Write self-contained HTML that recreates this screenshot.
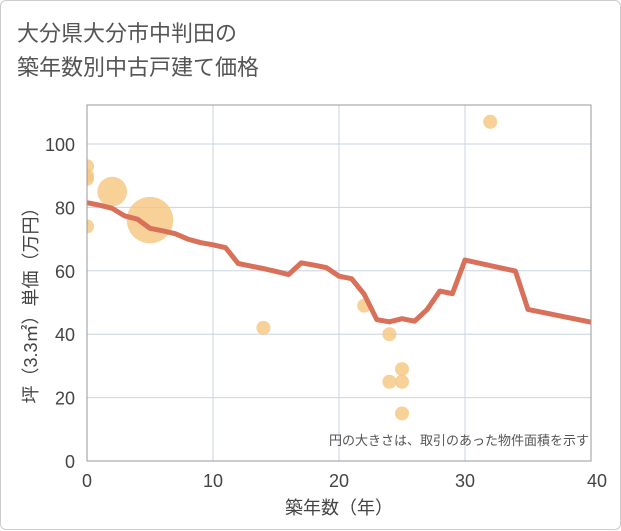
<!DOCTYPE html>
<html><head><meta charset="utf-8"><style>
body{margin:0;background:#fff;}
#wrap{position:relative;width:619px;height:528px;border:1px solid #ccc;border-radius:6px;background:#fff;font-family:"Liberation Sans","Noto Sans CJK JP",sans-serif;}
.title{position:absolute;left:16px;top:16px;font-size:22px;line-height:34px;color:#555;}
</style></head><body>
<div id="wrap">
<div class="title">大分県大分市中判田の<br>築年数別中古戸建て価格</div>
<svg id="chart" width="621" height="530" style="position:absolute;left:0;top:0"></svg>
</div>
<script>
const lineYears=[0,1,2,3,4,5,6,7,8,9,10,11,12,13,14,15,16,17,18,19,20,21,22,23,24,25,26,27,28,29,30,34,35,40];
const linePrices=[81.5,80.7,79.7,77.3,76.3,73.4,72.6,71.7,70,68.9,68.2,67.3,62.3,61.5,60.7,59.8,58.8,62.5,61.8,61,58.3,57.5,52.6,44.6,43.9,44.9,44.1,47.8,53.6,52.8,63.4,59.9,47.8,43.8];
const bubbleYears=[0,0,0,0,2,5,14,22,24,25,24,25,25,32];
const bubblePrices=[93,90,89,74,85,76,42,49,40,29,25,25,15,107];
const bubbleSizes=[1,1,1,1,4.5,11,1,1,1,1,1,1,1,1];
const xTicks=[0,10,20,30,40];
const yTicks=[0,20,40,60,80,100];
const NS="http://www.w3.org/2000/svg";
const svg=document.getElementById('chart');
const L=86,R=590,T=104,B=460;
const xs=v=>L+(v/40)*(R-L);
const ys=v=>B-v*3.17;
function mk(t,a,parent){const e=document.createElementNS(NS,t);for(const k in a)e.setAttribute(k,a[k]);(parent||svg).appendChild(e);return e;}
const defs=mk('defs',{});
const cp=mk('clipPath',{id:'plotclip'},defs);
mk('rect',{x:L,y:T,width:R-L,height:B-T},cp);
const bg=mk('rect',{x:L,y:T,width:R-L,height:B-T,fill:'#fff',stroke:'#999'});


xTicks.forEach(t=>{
 const g=mk('line',{x1:xs(t),x2:xs(t),y1:T,y2:B,stroke:'#c8d4e0'});
 
 
 const l=mk('text',{x:xs(t)+(t===40?6:0),y:B+26,'text-anchor':'middle','font-size':18,fill:'#444'});
 l.textContent=t;
 
 
});
yTicks.forEach(t=>{
 const g=mk('line',{x1:L,x2:R,y1:ys(t),y2:ys(t),stroke:'#c8d4e0'});
 
 
 const l=mk('text',{x:L-12,y:ys(t)+7,'text-anchor':'end','font-size':18,fill:'#444'});
 l.textContent=t;
 
 
});
const g2=mk('g',{'clip-path':'url(#plotclip)'});
bubbleYears.forEach((yr,i)=>{
 const c=mk('circle',{cx:xs(yr),cy:ys(bubblePrices[i]),r:7*Math.sqrt(bubbleSizes[i]),fill:'#f5c57e','fill-opacity':0.8},g2);
 
 
});
const p=mk('polyline',{points:lineYears.map((y,i)=>xs(y)+','+ys(linePrices[i])).join(' '),fill:'none',stroke:'#d9705a','stroke-width':5,'stroke-linejoin':'round'},g2);


mk('rect',{x:L,y:T,width:R-L,height:B-T,fill:'none',stroke:'#999'});
const n=mk('text',{x:588,y:444,'text-anchor':'end','font-size':13,fill:'#555'});
n.textContent='円の大きさは、取引のあった物件面積を示す';


const xt=mk('text',{x:(L+R)/2,y:513,'text-anchor':'middle','font-size':18,fill:'#444'});
xt.textContent='築年数（年）';


const yt=mk('text',{x:0,y:0,'text-anchor':'middle','font-size':18,fill:'#444',transform:'translate(36,300) rotate(-90)'});
yt.textContent='坪（3.3㎡）単価（万円）';


</script>
</body></html>
